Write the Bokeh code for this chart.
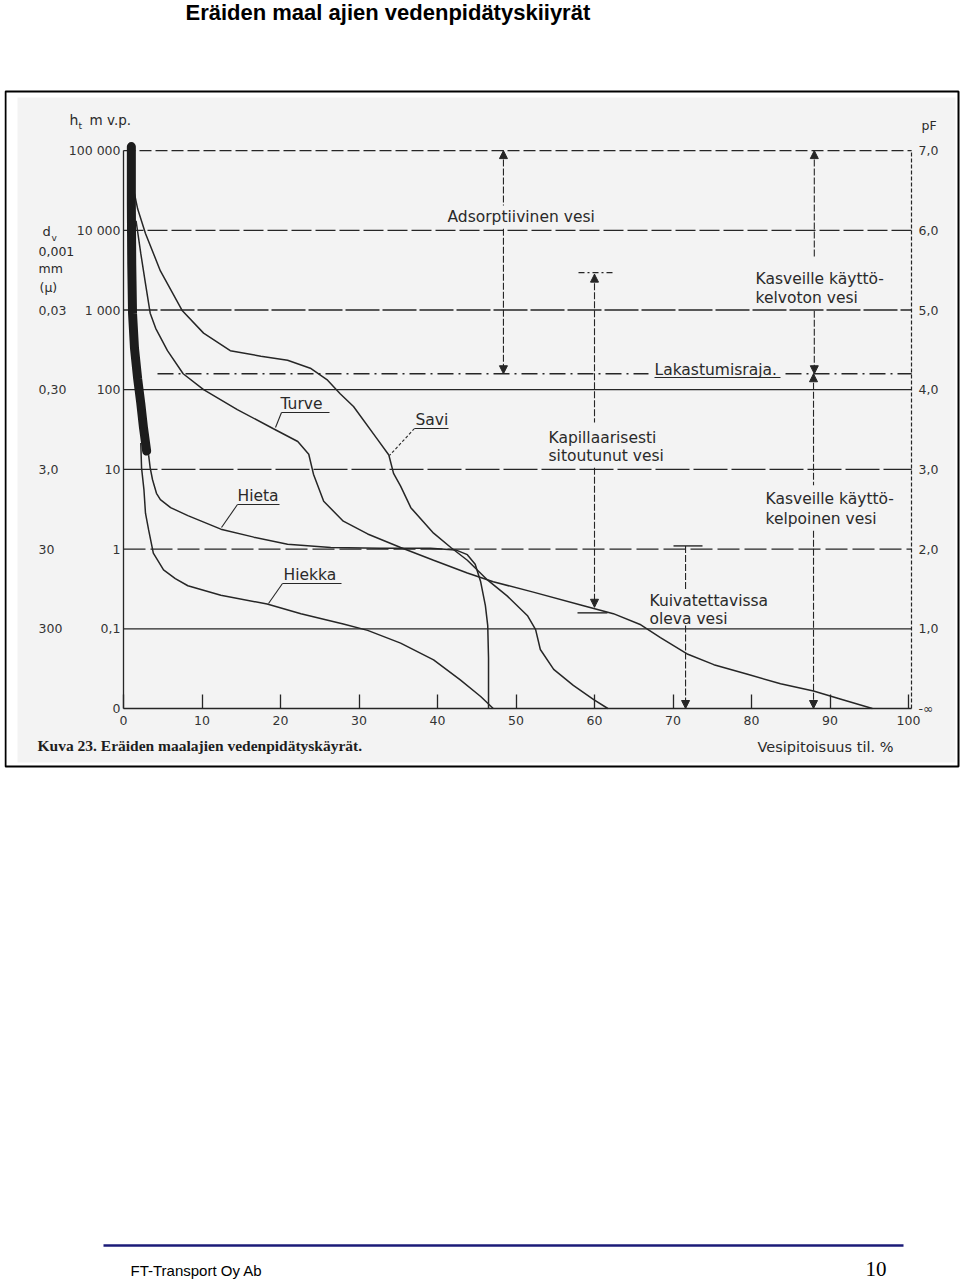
from bokeh.plotting import figure
from bokeh.models import Range1d, FixedTicker, LinearAxis, Arrow, NormalHead
from bokeh.core.properties import value
from bokeh.embed import file_html
from bokeh.resources import INLINE

# ---------------- data (water content %, pF) ----------------
water_ticks = [0, 10, 20, 30, 40, 50, 60, 70, 80, 90, 100]
pf_levels = [0, 1, 2, 3, 4, 5, 6, 7]
ht_labels = ["0", "0,1", "1", "10", "100", "1 000", "10 000", "100 000"]
pf_labels = ["-\u221e", "1,0", "2,0", "3,0", "4,0", "5,0", "6,0", "7,0"]
dv_levels = [5, 4, 3, 2, 1]
dv_labels = ["0,03", "0,30", "3,0", "30", "300"]
grid_levels = [1, 2, 3, 4, 5, 6, 7]
wilting_pf = 4.2

savi_w = [1.4, 1.8, 2.8, 4.7, 7.5, 10.2, 13.6, 17.5, 20.9, 23.8, 26.0, 27.6, 29.3, 32.4,
          33.8, 34.4, 35.3, 36.6, 39.5, 41.7, 43.8, 46.4, 48.9, 51.5, 52.5, 53.1, 54.8,
          57.3, 59.9, 61.7]
savi_pf = [6.46, 6.27, 5.96, 5.49, 4.99, 4.71, 4.49, 4.42, 4.37, 4.27, 4.12, 3.95, 3.79, 3.37,
           3.18, 2.95, 2.79, 2.52, 2.20, 2.02, 1.86, 1.61, 1.41, 1.16, 0.99, 0.74, 0.49,
           0.29, 0.11, 0.0]

turve_w = [1.6, 2.2, 2.8, 3.4, 4.1, 5.6, 7.6, 10.2, 14.5, 19.1, 22.2, 23.6, 24.2, 25.5, 28.0,
           31.1, 35.3, 39.5, 43.8, 47.1, 52.2, 58.6, 62.4, 65.9, 68.4, 71.9, 75.2, 79.5,
           83.7, 87.9, 91.3, 95.4]
turve_pf = [6.12, 5.71, 5.33, 4.96, 4.77, 4.49, 4.20, 4.00, 3.75, 3.51, 3.35, 3.19, 2.94, 2.60,
            2.35, 2.19, 2.02, 1.86, 1.70, 1.59, 1.46, 1.29, 1.19, 1.05, 0.89, 0.68, 0.55,
            0.43, 0.31, 0.22, 0.12, 0.0]

hieta_w = [3.2, 3.4, 3.7, 4.2, 4.7, 6.0, 8.2, 12.4, 16.6, 20.9, 26.4, 32.7, 39.1, 42.3, 43.8,
           44.8, 45.5, 46.1, 46.4, 46.5, 46.5]
hieta_pf = [3.18, 3.02, 2.87, 2.70, 2.62, 2.52, 2.42, 2.25, 2.15, 2.06, 2.02, 2.01, 2.01, 1.99,
            1.93, 1.81, 1.59, 1.29, 1.04, 0.63, 0.0]

hiekka_w = [2.2, 2.3, 2.6, 2.8, 3.2, 3.8, 5.1, 6.6, 8.2, 12.4, 18.3, 22.6, 28.0, 31.1, 35.3,
            39.5, 42.9, 45.5, 47.1]
hiekka_pf = [3.33, 3.02, 2.75, 2.45, 2.24, 1.95, 1.74, 1.63, 1.54, 1.42, 1.31, 1.19, 1.06, 0.98,
             0.82, 0.61, 0.36, 0.15, 0.0]

bar_w = [1.0, 1.0, 1.05, 1.15, 1.4, 1.8, 2.2, 2.55, 2.95]
bar_pf = [7.05, 6.33, 5.58, 4.96, 4.52, 4.14, 3.83, 3.52, 3.23]

# water zones: x position (%), pF top, pF bottom, label gap (pF hi, pF lo)
zone_x = [48.4, 60.0, 88.0, 87.9, 71.6]
zone_top = [7.0, 5.45, 7.0, 4.2, 2.04]
zone_bot = [4.2, 1.27, 4.2, 0.0, 0.0]
zone_gap_hi = [6.31, 3.59, 5.65, 2.80, 1.48]
zone_gap_lo = [6.02, 3.02, 4.99, 2.23, 1.04]
zone_head_top = [True, True, True, True, False]

# ---------------- page <-> data helpers ----------------
def X(px):
    return (px - 123) / 7.85


def Y(py):
    return (708 - py) / 79.7


INK = "#262626"

p = figure(width=956, height=1280,
           x_range=Range1d(X(4), X(960)), y_range=Range1d(Y(1280), Y(0)),
           output_backend="svg", toolbar_location=None, min_border=0,
           outline_line_color=None, background_fill_color="white",
           border_fill_color="white",
           styles={"margin-left": "4px"})
p.grid.visible = False

# scanned sheet background and frame
p.quad(left=[X(17)], right=[X(955)], top=[Y(97)], bottom=[Y(762)],
       fill_color="#f3f3f3", line_color=None)
p.quad(left=[X(5)], right=[X(958)], top=[Y(91)], bottom=[Y(766)],
       fill_color=None, line_color="black", line_width=2)

# horizontal grid lines
grid_dash = {1: "solid", 2: "22 5", 3: "34 4", 4: "solid", 5: "34 3", 6: "20 4", 7: "12 4"}
for lv in grid_levels:
    p.line([0, 100.4], [lv, lv], line_color=INK, line_width=1.3, line_dash=grid_dash[lv])

# wilting point dash-dot
p.segment(x0=[X(157), X(785)], x1=[X(648), 100.4], y0=[wilting_pf, wilting_pf],
          y1=[wilting_pf, wilting_pf], line_color=INK, line_width=1.3, line_dash="16 5 2 5")

# axes
xa = p.xaxis[0]
xa.fixed_location = 0
xa.ticker = FixedTicker(ticks=water_ticks)
xa.bounds = (0, 100.4)
xa.major_tick_in = 14
xa.major_tick_out = 0
xa.minor_tick_line_color = None
xa.major_label_standoff = 7
xa.axis_line_color = INK
xa.axis_line_width = 1.6
xa.major_tick_line_color = INK
xa.major_tick_line_width = 1.3
xa.major_label_text_font = "DejaVu Sans"
xa.major_label_text_font_size = "12.5px"
xa.major_label_text_color = "#333333"

ya = p.yaxis[0]
ya.fixed_location = 0
ya.ticker = FixedTicker(ticks=pf_levels)
ya.major_label_overrides = {lv: lab for lv, lab in zip(pf_levels, ht_labels)}
ya.bounds = (0, 7)
ya.major_tick_in = 0
ya.major_tick_out = 0
ya.minor_tick_line_color = None
ya.major_label_standoff = 3
ya.axis_line_color = INK
ya.axis_line_width = 1.3
ya.major_label_text_font = "DejaVu Sans"
ya.major_label_text_font_size = "12.5px"
ya.major_label_text_color = "#333333"

ra = LinearAxis(fixed_location=X(911), ticker=FixedTicker(ticks=pf_levels),
                major_label_overrides={lv: lab for lv, lab in zip(pf_levels, pf_labels)},
                bounds=(0, 7), major_tick_in=0, major_tick_out=0,
                minor_tick_line_color=None, major_label_standoff=7,
                axis_line_color=INK, axis_line_width=1.2, axis_line_dash="4 2",
                major_label_text_font="DejaVu Sans", major_label_text_font_size="12.5px",
                major_label_text_color="#333333")
p.add_layout(ra, "right")

# retention curves
for w, f in [(savi_w, savi_pf), (turve_w, turve_pf), (hieta_w, hieta_pf), (hiekka_w, hiekka_pf)]:
    p.line(w, f, line_color=INK, line_width=1.5)
p.line(bar_w, bar_pf, line_color="#1c1c1c", line_width=9, line_cap="round")

# water zone arrows
for zx, zt, zb, gh, gl, ht in zip(zone_x, zone_top, zone_bot, zone_gap_hi, zone_gap_lo, zone_head_top):
    p.segment(x0=[zx, zx], x1=[zx, zx], y0=[zt, gl], y1=[gh, zb],
              line_color=INK, line_width=1.1, line_dash="7 2")
    p.add_layout(Arrow(end=NormalHead(size=8, fill_color=INK, line_color=INK),
                       x_start=zx, y_start=zb + 0.3, x_end=zx, y_end=zb, line_alpha=0))
    if ht:
        p.add_layout(Arrow(end=NormalHead(size=8, fill_color=INK, line_color=INK),
                           x_start=zx, y_start=zt - 0.3, x_end=zx, y_end=zt, line_alpha=0))

# T-bars and caps
p.segment(x0=[X(673), X(577)], x1=[X(702), X(607)], y0=[2.04, 1.2], y1=[2.04, 1.2],
          line_color=INK, line_width=1.4)
p.segment(x0=[X(578)], x1=[X(612)], y0=[5.47], y1=[5.47], line_color=INK,
          line_width=1.2, line_dash="6 3 2 3")


def txt(s, px, py, size=15.5, font="DejaVu Sans", style="normal", align="left", color="#2a2a2a"):
    p.text(x=[X(px)], y=[Y(py)], text=[s], text_font=value(font),
           text_font_size=f"{size}px", text_font_style=style, text_align=align,
           text_baseline="middle", text_color=color)


def uline(px0, px1, py):
    p.segment(x0=[X(px0)], x1=[X(px1)], y0=[Y(py)], y1=[Y(py)], line_color=INK, line_width=1.2)


def leader(px0, py0, px1, py1, dash="solid"):
    p.segment(x0=[X(px0)], x1=[X(px1)], y0=[Y(py0)], y1=[Y(py1)], line_color=INK,
              line_width=1.1, line_dash=dash)


# d_v column (through the scale)
p.text(x=[X(38)] * len(dv_levels), y=dv_levels, text=dv_labels,
       text_font=value("DejaVu Sans"), text_font_size="12.5px", text_baseline="middle",
       text_color="#333333")

# axis headers
txt("h", 69, 119, 14)
txt("t", 78, 125, 9)
txt("m  v.p.", 89, 119, 13.5)
txt("d", 42, 231, 13)
txt("v", 51, 237, 9)
txt("0,001", 38, 251, 12.5)
txt("mm", 38, 268, 12.5)
txt("(\u03bc)", 39, 287, 12.5)
txt("pF", 921, 125, 12.5)

# zone labels
txt("Adsorptiivinen vesi", 447, 216)
txt("Kasveille k\u00e4ytt\u00f6-", 755, 278)
txt("kelvoton vesi", 755, 297)
txt("Lakastumisraja.", 654, 369)
uline(654, 780, 377)
txt("Kapillaarisesti", 548, 437)
txt("sitoutunut vesi", 548, 455)
txt("Kasveille k\u00e4ytt\u00f6-", 765, 498)
txt("kelpoinen vesi", 765, 518)
txt("Kuivatettavissa", 649, 600)
txt("oleva vesi", 649, 618)

# curve labels
txt("Turve", 280, 403)
uline(281, 329, 412)
leader(281, 412, 275, 427)
txt("Savi", 415, 419)
uline(414, 448, 428)
leader(414, 428, 389, 455, "3 2")
txt("Hieta", 237, 495)
uline(237, 279, 504)
leader(237, 504, 221, 527)
txt("Hiekka", 283, 574)
uline(282, 341, 583)
leader(282, 583, 268, 603)

# captions
txt("Kuva 23. Er\u00e4iden maalajien vedenpid\u00e4tysk\u00e4yr\u00e4t.", 37, 745, 15.5,
    "Liberation Serif", "bold", color="#1e1e1e")
txt("Vesipitoisuus    til. %", 757, 746, 14.5)

# page title and footer
txt("Er\u00e4iden maal ajien vedenpid\u00e4tyskiiyr\u00e4t", 185, 12, 22,
    "Liberation Sans", "bold", color="black")
p.segment(x0=[X(103)], x1=[X(903)], y0=[Y(1245)], y1=[Y(1245)], line_color="#1b1b78",
          line_width=2.5)
txt("FT-Transport Oy Ab", 130, 1270, 15, "Liberation Sans", color="black")
txt("10", 865, 1268, 21, "Liberation Serif", color="black")

open("out.html", "w").write(file_html(p, INLINE))
